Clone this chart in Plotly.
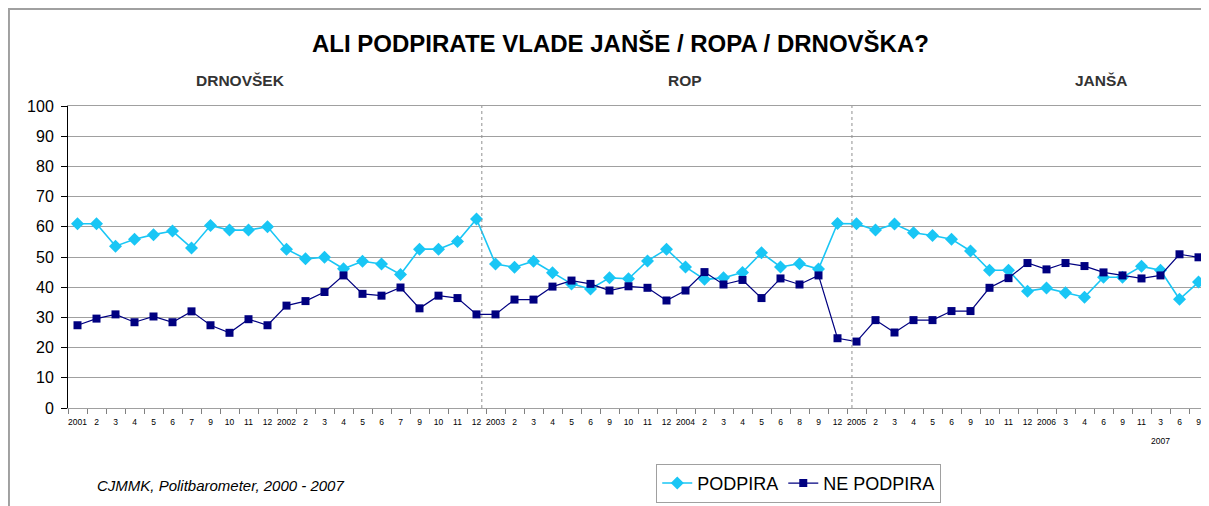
import plotly.graph_objects as go

# x-axis category labels (one per survey)
tick_labels = ["2001", "2", "3", "4", "5", "6", "7", "9", "10", "11", "12",
               "2002", "2", "3", "4", "5", "6", "7", "9", "10", "11", "12",
               "2003", "2", "3", "4", "5", "6", "9", "10", "11", "12",
               "2004", "2", "3", "4", "5", "6", "8", "9", "12",
               "2005", "2", "3", "4", "5", "6", "9", "10", "11", "12",
               "2006", "3", "4", "6", "9", "11",
               "3", "6", "9"]

podpira = [61, 61, 53.6, 55.9, 57.4, 58.6, 53, 60.4, 58.9, 58.9, 60,
           52.6, 49.4, 49.9, 46.1, 48.6, 47.7, 44.2, 52.6, 52.6, 55.1, 62.6,
           47.7, 46.6, 48.6, 44.8, 41.1, 39.4, 43.1, 42.8, 48.7,
           52.6, 46.7, 42.6, 43.1, 44.9, 51.4, 46.7, 47.8, 46,
           61.1, 61, 58.9, 60.9, 58, 57.1, 55.9, 52, 45.6, 45.6,
           38.7, 39.7, 38.2, 36.7, 43.3, 43.3, 46.9, 45.6, 36, 41.7]

ne_podpira = [27.4, 29.6, 31, 28.4, 30.3, 28.4, 32, 27.4, 24.9, 29.4, 27.4,
              33.9, 35.4, 38.4, 43.9, 37.8, 37.2, 39.9, 33, 37.2, 36.4, 31,
              31, 35.9, 35.9, 40.2, 42.2, 41.1, 38.9, 40.3, 39.8,
              35.6, 38.9, 45, 40.9, 42.4, 36.4, 42.9, 40.9, 43.9,
              23.1, 22, 29.1, 25, 29.1, 29.1, 32.1, 32.1, 39.8, 43,
              48, 45.9, 48, 47, 44.9, 43.9, 42.9, 43.9, 50.9, 49.9]

series_names = ["PODPIRA", "NE PODPIRA"]
title_text = "ALI PODPIRATE VLADE JANŠE / ROPA / DRNOVŠKA?"
period_labels = ["DRNOVŠEK", "ROP", "JANŠA"]
source_text = "CJMMK, Politbarometer, 2000 - 2007"
year_2007 = "2007"

FONT = "Liberation Sans, Arial, sans-serif"

idx = list(range(len(tick_labels)))

fig = go.Figure()
fig.add_trace(go.Scatter(
    x=idx, y=podpira, name=series_names[0], mode="lines+markers",
    line=dict(color="#19C6F5", width=1.6),
    marker=dict(symbol="diamond", size=10, color="#19C6F5"),
))
fig.add_trace(go.Scatter(
    x=idx, y=ne_podpira, name=series_names[1], mode="lines+markers",
    line=dict(color="#000080", width=1.2),
    marker=dict(symbol="square", size=8, color="#000080"),
))

# the page body adds an 8px offset, so the figure is sized to fit the window
fig.update_layout(
    width=1201, height=498,
    margin=dict(l=60, r=1, t=98, b=98, autoexpand=False),
    paper_bgcolor="white", plot_bgcolor="white",
    font=dict(family=FONT, color="black"),
    showlegend=True,
    legend=dict(
        orientation="h", x=0.516, y=-0.185, xanchor="left", yanchor="top",
        bordercolor="#A0A0A0", borderwidth=1, bgcolor="white",
        font=dict(family=FONT, size=18, color="black"),
        itemwidth=30, tracegroupgap=0,
    ),
    xaxis=dict(
        range=[-0.5, len(tick_labels) - 0.5], automargin=False,
        tickmode="array", tickvals=idx, ticktext=tick_labels, tickangle=0,
        ticks="", tickfont=dict(family=FONT, size=8.5, color="black"),
        ticklabelstandoff=6,
        minor=dict(tick0=-0.5, dtick=1, ticks="outside", ticklen=5,
                   tickcolor="#808080", showgrid=False),
        showgrid=False, zeroline=False,
        showline=True, linecolor="#A0A0A0", linewidth=1, mirror=True,
    ),
    yaxis=dict(
        range=[0, 100], tickmode="linear", tick0=0, dtick=10, automargin=False,
        ticks="outside", ticklen=6, tickcolor="black",
        tickfont=dict(family=FONT, size=16, color="black"),
        ticklabelstandoff=4,
        showgrid=True, gridcolor="#A0A0A0", gridwidth=1,
        zeroline=False, showline=True, linecolor="black", linewidth=1,
    ),
)

# plot-area right border
fig.add_shape(type="line", xref="paper", yref="paper", x0=1, x1=1, y0=0, y1=1,
              line=dict(color="#A0A0A0", width=1))
# outer chart frame
fig.add_shape(type="rect", xref="paper", yref="paper",
              x0=-0.0518, x1=1.1, y0=-0.5, y1=1.321,
              line=dict(color="#A0A0A0", width=2), fillcolor="rgba(0,0,0,0)")
# government change separators
for xv in [21.28, 40.76]:
    fig.add_shape(type="line", xref="x", yref="paper", x0=xv, x1=xv, y0=0, y1=1,
                  line=dict(color="#909090", width=1, dash="dot"))

fig.add_annotation(text="<b>" + title_text + "</b>", xref="paper", yref="paper",
                   x=0.485, y=1.2086, showarrow=False, xanchor="center", yanchor="middle",
                   font=dict(family=FONT, size=24, color="black"))
for lbl, xp in zip(period_labels, [0.1516, 0.541, 0.9068]):
    fig.add_annotation(text="<b>" + lbl + "</b>", xref="paper", yref="paper",
                       x=xp, y=1.086, showarrow=False, xanchor="center", yanchor="middle",
                       font=dict(family=FONT, size=15.5, color="#333333"))
fig.add_annotation(text="<i>" + source_text + "</i>", xref="paper", yref="paper",
                   x=0.134, y=-0.255, showarrow=False, xanchor="center", yanchor="middle",
                   font=dict(family=FONT, size=15, color="black"))
fig.add_annotation(text=year_2007, xref="x", yref="paper",
                   x=57, y=-0.109, showarrow=False, xanchor="center", yanchor="middle",
                   font=dict(family=FONT, size=8.5, color="black"))

fig.write_html("out.html")
